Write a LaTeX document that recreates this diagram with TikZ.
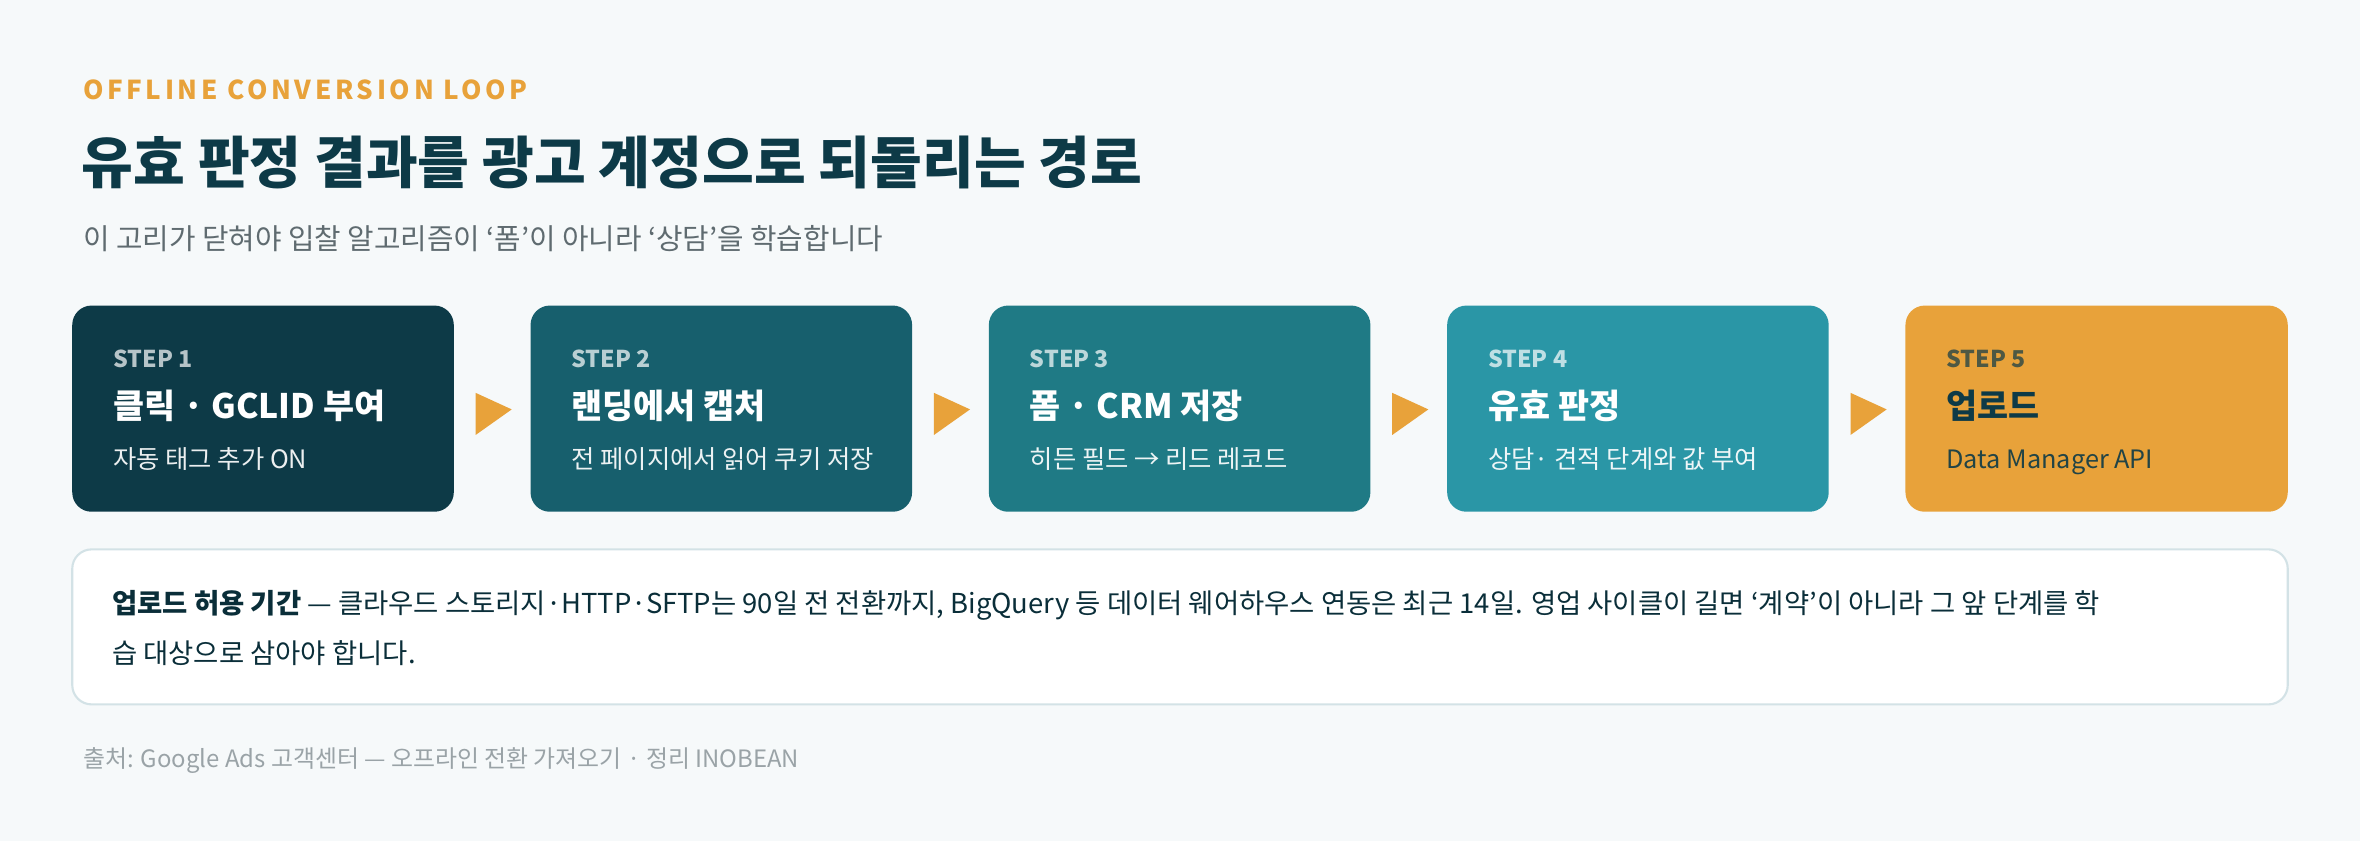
\documentclass[tikz,border=0pt]{standalone}
\usepackage{fontspec}
\setmainfont{Noto Sans CJK KR}
\newfontfamily\krb{Noto Sans CJK KR}[BoldFont={* Bold}]
\definecolor{bg}{HTML}{F6F9FA}
\definecolor{c1}{HTML}{0D3A47}
\definecolor{c2}{HTML}{175F6D}
\definecolor{c3}{HTML}{1F7A85}
\definecolor{c4}{HTML}{2A96A6}
\definecolor{c5}{HTML}{E8A23A}
\definecolor{gtext}{HTML}{5F6B70}
\definecolor{ftext}{HTML}{9AA3A7}
\definecolor{bord}{HTML}{D3E2E6}
\begin{document}
\begin{tikzpicture}[x=0.01505cm,y=-0.01505cm,
  box/.style={rounded corners=5.5pt,minimum width=253\pgflinewidth,inner sep=0},
  steplbl/.style={anchor=base west,font=\fontsize{6.6}{8}\selectfont\bfseries,text=white,text opacity=0.7},
  steptit/.style={anchor=base west,font=\fontsize{9.6}{11}\selectfont\bfseries,text=white},
  stepsub/.style={anchor=base west,font=\fontsize{7.2}{9}\selectfont,text=white,text opacity=0.92},
  arr/.style={fill=c5,draw=none}]
\fill[bg] (0,0) rectangle (1568,559);
\useasboundingbox (0,0) rectangle (1568,559);
\node[anchor=base west,text=c5,font=\fontsize{7.4}{9}\selectfont\bfseries\addfontfeatures{LetterSpace=14}] (hdr) at (47,66) {OFFLINE CONVERSION LOOP};
\node[anchor=base west,text=c1,font=\fontsize{16}{19}\selectfont\bfseries] (ttl) at (46,122) {유효 판정 결과를 광고 계정으로 되돌리는 경로};
\node[anchor=base west,text=gtext,font=\fontsize{8.2}{10}\selectfont] (sub) at (47,166) {이 고리가 닫혀야 입찰 알고리즘이 ‘폼’이 아니라 ‘상담’을 학습합니다};
\foreach \i/\col/\lab/\tit/\sb in {
 1/c1/STEP 1/클릭 · GCLID 부여/자동 태그 추가 ON,
 2/c2/STEP 2/랜딩에서 캡처/전 페이지에서 읽어 쿠키 저장,
 3/c3/STEP 3/폼 · CRM 저장/히든 필드 → 리드 레코드,
 4/c4/STEP 4/유효 판정/상담· 견적 단계와 값 부여}{
  \pgfmathsetmacro\xx{48+(\i-1)*304.5}
  \fill[\col,rounded corners=5.5pt] (\xx,203) rectangle ++(253.5,137);
  \node[steplbl] (l\i) at (\xx+19,244) {\lab};
  \node[steptit] (t\i) at (\xx+19,278) {\tit};
  \node[stepsub] (s\i) at (\xx+19,311) {\sb};
}
\fill[c5,rounded corners=5.5pt] (1266,203) rectangle (1520,340);
\node[steplbl,text=c1,text opacity=0.7] (l5) at (1285,244) {STEP 5};
\node[steptit,text=c1] (t5) at (1285,278) {업로드};
\node[stepsub,text=c1,text opacity=0.9] (s5) at (1285,311) {Data Manager API};
\foreach \j in {0,...,3}{
  \pgfmathsetmacro\ax{316+\j*304.5}
  \fill[c5] (\ax,261) -- (\ax+24,272) -- (\ax,289) -- cycle;
}
\filldraw[fill=white,draw=bord,line width=0.6pt,rounded corners=5.5pt] (48,365) rectangle (1520,468);
\node[anchor=north west,align=left,text=c1!80!black,font=\fontsize{7.8}{14.2}\selectfont,inner sep=0] (info) at (74,392)
 {{\bfseries 업로드 허용 기간} — 클라우드 스토리지·HTTP·SFTP는 90일 전 전환까지, BigQuery 등 데이터 웨어하우스 연동은 최근 14일. 영업 사이클이 길면 ‘계약’이 아니라 그 앞 단계를 학\\습 대상으로 삼아야 합니다.};
\node[anchor=base west,text=ftext,font=\fontsize{6.8}{8}\selectfont] (ft) at (47,510) {출처: Google Ads 고객센터 — 오프라인 전환 가져오기 ·  정리 INOBEAN};
\end{tikzpicture}
\end{document}
